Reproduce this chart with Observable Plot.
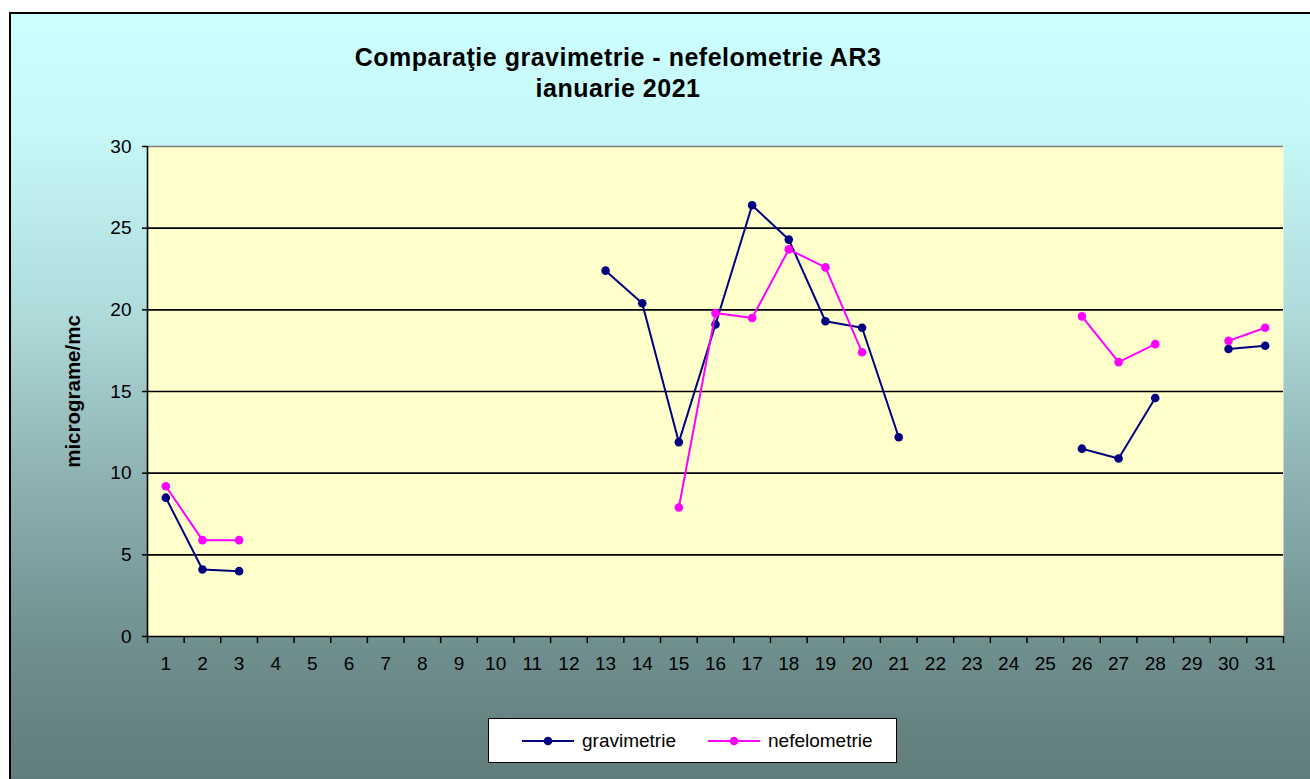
<!DOCTYPE html>
<html>
<head>
<meta charset="utf-8">
<script src="https://cdn.jsdelivr.net/npm/d3@7"></script>
<script src="https://cdn.jsdelivr.net/npm/@observablehq/plot@0.6"></script>
<style>
  html, body { margin: 0; padding: 0; background: #fff; }
  #wrap { position: relative; width: 1310px; height: 779px; overflow: hidden; background: #fff;
          font-family: "Liberation Sans", Arial, sans-serif; }
  #bg { position: absolute; left: 9px; top: 12px; width: 1330px; height: 800px;
        border: 2px solid #000; box-sizing: border-box;
        background: linear-gradient(to bottom, #CCFFFF 0%, #C6F8F8 15%, #AEDADA 38%, #8FB2B2 58%, #6F8E8E 80%, #5D7878 100%); }
  #title { position: absolute; left: 0; width: 1236px; top: 42px; text-align: center;
           font-weight: bold; font-size: 25px; line-height: 31px; letter-spacing: 0.5px; color: #000; }
  #chart { position: absolute; left: 0; top: 0; }
  #legend { position: absolute; left: 488px; top: 718px; width: 409px; height: 45px; box-sizing: border-box;
            background: #fff; border: 1.5px solid #000; }
  .item { position: absolute; top: 1px; height: 42px; display: flex; align-items: center; font-size: 19px; }
  .item svg { margin-right: 8px; }
</style>
</head>
<body>
<div id="wrap">
  <div id="bg"></div>
  <div id="title">Comparaţie gravimetrie - nefelometrie AR3<br>ianuarie 2021</div>
  <div id="chart"></div>
  <div id="legend"></div>
</div>
<script>
// ---- data ----
const days = [1,2,3,4,5,6,7,8,9,10,11,12,13,14,15,16,17,18,19,20,21,22,23,24,25,26,27,28,29,30,31];
const dayLabels = ["1","2","3","4","5","6","7","8","9","10","11","12","13","14","15","16","17","18","19","20","21","22","23","24","25","26","27","28","29","30","31"];
const gravimetrie = [8.5,4.1,4.0,null,null,null,null,null,null,null,null,null,22.4,20.4,11.9,19.1,26.4,24.3,19.3,18.9,12.2,null,null,null,null,11.5,10.9,14.6,null,17.6,17.8];
const nefelometrie = [9.2,5.9,5.9,null,null,null,null,null,null,null,null,null,null,null,7.9,19.8,19.5,23.7,22.6,17.4,null,null,null,null,null,19.6,16.8,17.9,null,18.1,18.9];
const seriesNames = ["gravimetrie", "nefelometrie"];
const seriesColors = ["#000080", "#FF00FF"];
const yTicks = [0,5,10,15,20,25,30];
const gridValues = [5,10,15,20,25];
const yLabel = "micrograme/mc";

const gData = days.map((d,i) => ({day: d, v: gravimetrie[i]}));
const nData = days.map((d,i) => ({day: d, v: nefelometrie[i]}));
const bounds = [...days.map(d => d - 0.5), days[days.length-1] + 0.5];

const font = "Liberation Sans, Arial, sans-serif";

const chart = Plot.plot({
  width: 1310,
  height: 700,
  marginLeft: 147,
  marginRight: 27,
  marginTop: 146,
  marginBottom: 64,
  style: { background: "transparent", fontFamily: font, overflow: "visible", color: "#000" },
  x: { type: "linear", domain: [bounds[0], bounds[bounds.length-1]] },
  y: { domain: [0, 30] },
  marks: [
    Plot.frame({ fill: "#FFFFCC", stroke: null }),
    Plot.ruleY(gridValues, { stroke: "#000", strokeWidth: 1.6 }),
    Plot.ruleY([30], { stroke: "#808080", strokeWidth: 1.6 }),
    Plot.axisY({ ticks: yTicks, tickSize: 5, tickPadding: 11, fontSize: 19, label: null, stroke: "#000", strokeWidth: 1.5 }),
    Plot.axisX({ ticks: bounds, tickSize: 7, tickFormat: () => "", label: null, stroke: "#000", strokeWidth: 1.5 }),
    Plot.axisX({ ticks: days, tickSize: 0, tickPadding: 20, fontSize: 19, tickFormat: (d) => dayLabels[days.indexOf(d)], label: null }),
    Plot.ruleY([0], { stroke: "#000", strokeWidth: 1.6 }),
    Plot.ruleX([bounds[0]], { stroke: "#000", strokeWidth: 1.6 }),
    Plot.text([yLabel], { frameAnchor: "left", dx: -74, dy: 0, rotate: -90, fontSize: 20.5, fontWeight: "bold", text: d => d, textAnchor: "middle", lineAnchor: "middle", letterSpacing: "0.8px" }),
    Plot.line(gData, { x: "day", y: "v", stroke: seriesColors[0], strokeWidth: 2 }),
    Plot.dot(gData.filter(d => d.v != null), { x: "day", y: "v", r: 4.3, fill: seriesColors[0], stroke: null }),
    Plot.line(nData, { x: "day", y: "v", stroke: seriesColors[1], strokeWidth: 2 }),
    Plot.dot(nData.filter(d => d.v != null), { x: "day", y: "v", r: 4.3, fill: seriesColors[1], stroke: null })
  ]
});
document.getElementById("chart").appendChild(chart);

// legend
const legend = document.getElementById("legend");
const lefts = [33, 219];
seriesNames.forEach((name, i) => {
  const item = document.createElement("div");
  item.className = "item";
  item.style.left = lefts[i] + "px";
  item.innerHTML = `<svg width="52" height="12"><line x1="0" y1="6" x2="52" y2="6" stroke="${seriesColors[i]}" stroke-width="2"/><circle cx="26" cy="6" r="4.3" fill="${seriesColors[i]}"/></svg><span>${name}</span>`;
  legend.appendChild(item);
});
</script>
</body>
</html>
